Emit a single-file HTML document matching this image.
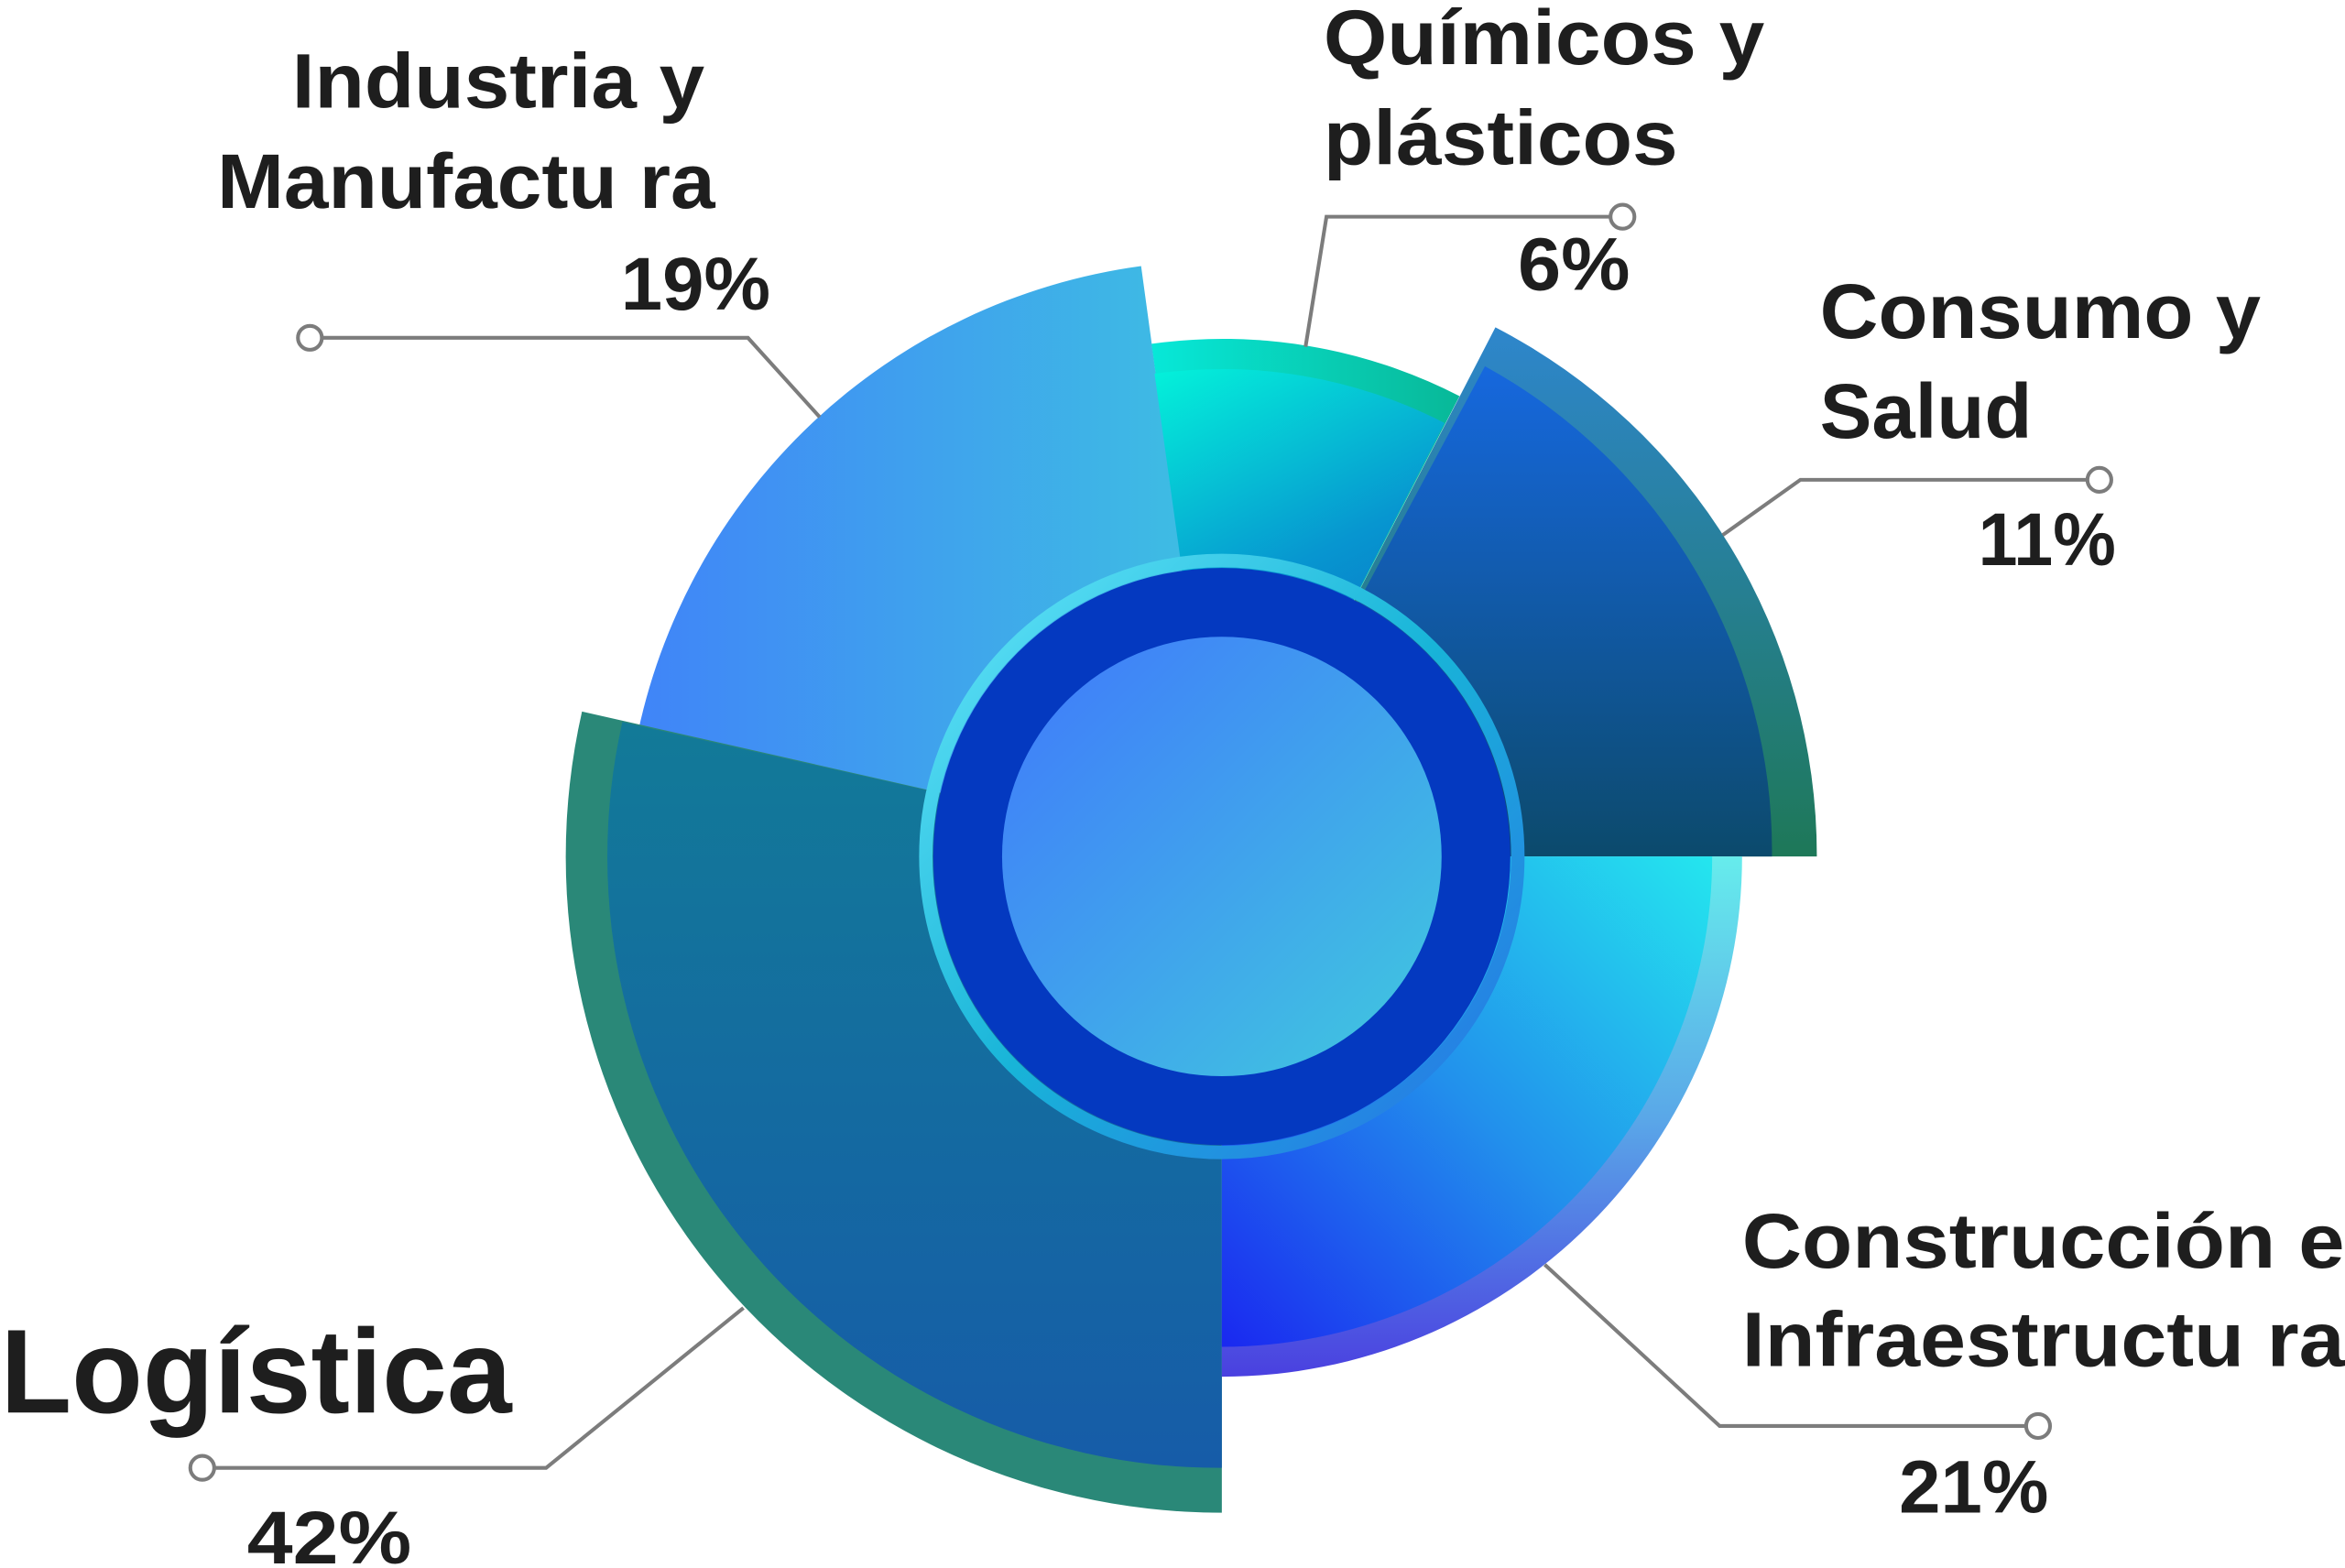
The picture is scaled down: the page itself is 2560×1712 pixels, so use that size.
<!DOCTYPE html>
<html><head><meta charset="utf-8"><style>
html,body{margin:0;padding:0;background:#fff;width:2560px;height:1712px;overflow:hidden}
svg{display:block}
text{font-family:"Liberation Sans","DejaVu Sans",sans-serif;font-weight:bold;fill:#1e1e1e}
</style></head><body>
<svg width="2560" height="1712" viewBox="0 0 1568 1049" xmlns="http://www.w3.org/2000/svg">
<defs>
<linearGradient id="gInd" x1="0" y1="0" x2="1" y2="0"><stop offset="0" stop-color="#4084f8"/><stop offset="1" stop-color="#3ec0e2"/></linearGradient>
<linearGradient id="gQui" x1="0" y1="0" x2="0.3" y2="1"><stop offset="0" stop-color="#04f2da"/><stop offset="0.5" stop-color="#0796d0"/><stop offset="1" stop-color="#0a5ec0"/></linearGradient>
<linearGradient id="gQuiB" x1="0" y1="0" x2="1" y2="0"><stop offset="0" stop-color="#07e8d8"/><stop offset="1" stop-color="#08b898"/></linearGradient>
<linearGradient id="gCon" x1="0" y1="0" x2="0" y2="1"><stop offset="0" stop-color="#1668de"/><stop offset="1" stop-color="#0c4a6c"/></linearGradient>
<linearGradient id="gConB" x1="0" y1="0" x2="0" y2="1"><stop offset="0" stop-color="#2e86cc"/><stop offset="1" stop-color="#1e7858"/></linearGradient>
<linearGradient id="gCst" x1="1" y1="0" x2="0" y2="1"><stop offset="0" stop-color="#24e6ee"/><stop offset="0.5" stop-color="#2290ec"/><stop offset="1" stop-color="#1a28f0"/></linearGradient>
<linearGradient id="gCstB" x1="0" y1="0" x2="0" y2="1"><stop offset="0" stop-color="#66ecec"/><stop offset="0.5" stop-color="#5aa8e8"/><stop offset="1" stop-color="#4a40e0"/></linearGradient>
<linearGradient id="gLog" x1="0" y1="0" x2="0" y2="1"><stop offset="0" stop-color="#127a98"/><stop offset="1" stop-color="#165ca8"/></linearGradient>
<linearGradient id="gRing" x1="0" y1="0" x2="1" y2="1"><stop offset="0" stop-color="#66e6fa"/><stop offset="0.5" stop-color="#18b4d8"/><stop offset="1" stop-color="#2a70e8"/></linearGradient>
<linearGradient id="gIn" x1="0" y1="0" x2="1" y2="1"><stop offset="0" stop-color="#4078fc"/><stop offset="1" stop-color="#40cade"/></linearGradient>
</defs>
<!-- Industria (under Logística) -->
<path d="M817,573 L425,497 A399,399 0 0 1 763,178 Z" fill="url(#gInd)"/>
<!-- Logística -->
<path d="M817,573 L817,1012 A439,439 0 0 1 389,476 Z" fill="#2a8878"/>
<path d="M817,573 L817,982 A409,409 0 0 1 416,483 Z" fill="url(#gLog)"/>
<!-- Químicos -->
<path d="M817,573 L770,230 A346,346 0 0 1 976,265 Z" fill="url(#gQuiB)"/>
<path d="M817,573 L772,250 A326,326 0 0 1 966,283 Z" fill="url(#gQui)"/>
<!-- Consumo -->
<path d="M817,573 L1000,219 A398,398 0 0 1 1215,573 Z" fill="url(#gConB)"/>
<path d="M817,573 L993,245 A370,370 0 0 1 1185,573 Z" fill="url(#gCon)"/>
<!-- Construcción -->
<path d="M817,573 L1165,573 A348,348 0 0 1 817,921 Z" fill="url(#gCstB)"/>
<path d="M817,573 L1145,573 A328,328 0 0 1 817,901 Z" fill="url(#gCst)"/>
<!-- center -->
<circle cx="817" cy="573" r="198" fill="none" stroke="url(#gRing)" stroke-width="9"/>
<circle cx="817" cy="573" r="193" fill="#0439c0"/>
<circle cx="817" cy="573" r="147" fill="url(#gIn)"/>
<!-- connectors -->
<g fill="none" stroke="#7c7c7c" stroke-width="2.5">
<polyline points="215,226 500,226 548,279"/>
<polyline points="1077,145 887,145 873,232"/>
<polyline points="1396,321 1204,321 1152,358"/>
<polyline points="1355,954 1150,954 1033,846"/>
<polyline points="143,982 365,982 497,875"/>
</g>
<g fill="#fff" stroke="#7c7c7c" stroke-width="2.5">
<circle cx="207" cy="226" r="8"/><circle cx="1085" cy="145" r="8"/><circle cx="1404" cy="321" r="8"/><circle cx="1363" cy="954" r="8"/><circle cx="135" cy="982" r="8"/>
</g>
<!-- labels -->
<text x="195" y="72" font-size="52" textLength="276" lengthAdjust="spacingAndGlyphs">Industria y</text>
<text x="145" y="139" font-size="52" textLength="333" lengthAdjust="spacingAndGlyphs">Manufactu ra</text>
<text x="415" y="207" font-size="50" textLength="100" lengthAdjust="spacingAndGlyphs">19%</text>
<text x="885" y="43" font-size="52" textLength="295" lengthAdjust="spacingAndGlyphs">Químicos y</text>
<text x="885" y="110" font-size="52" textLength="237" lengthAdjust="spacingAndGlyphs">plásticos</text>
<text x="1015" y="194" font-size="50" textLength="75" lengthAdjust="spacingAndGlyphs">6%</text>
<text x="1217" y="226" font-size="52" textLength="295" lengthAdjust="spacingAndGlyphs">Consumo y</text>
<text x="1217" y="293" font-size="52" textLength="142" lengthAdjust="spacingAndGlyphs">Salud</text>
<text x="1323" y="378" font-size="50" textLength="92" lengthAdjust="spacingAndGlyphs">11%</text>
<text x="1165" y="848" font-size="52" textLength="403" lengthAdjust="spacingAndGlyphs">Construcción e</text>
<text x="1165" y="914" font-size="52" textLength="403" lengthAdjust="spacingAndGlyphs">Infraestructu ra</text>
<text x="1270" y="1012" font-size="50" textLength="100" lengthAdjust="spacingAndGlyphs">21%</text>
<text x="0" y="945" font-size="80" textLength="342" lengthAdjust="spacingAndGlyphs">Logística</text>
<text x="165" y="1046" font-size="50" textLength="110" lengthAdjust="spacingAndGlyphs">42%</text>
</svg>
</body></html>
